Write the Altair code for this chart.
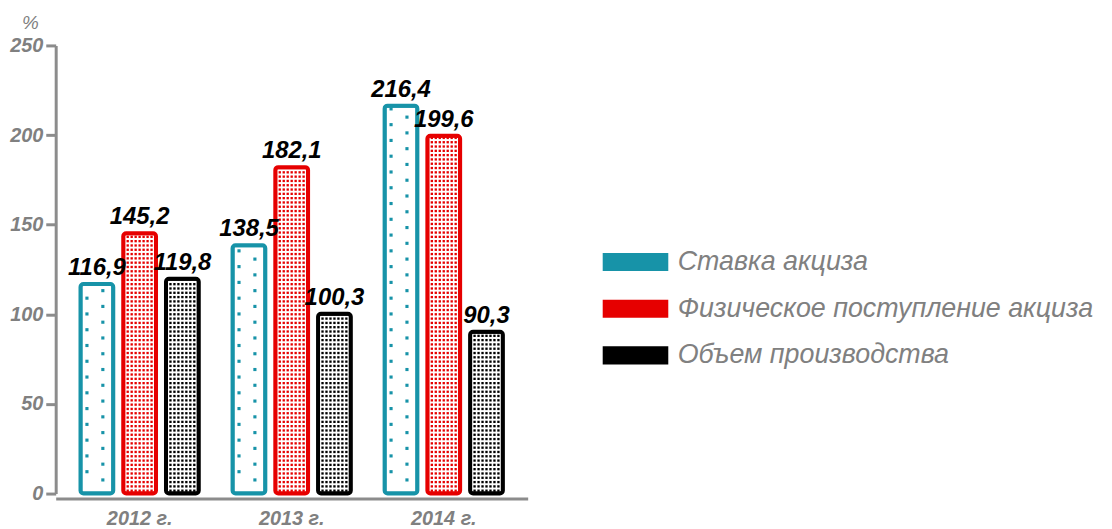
import altair as alt
import pandas as pd

years = ["2012 г.", "2013 г.", "2014 г."]
series = ["Ставка акциза", "Физическое поступление акциза", "Объем производства"]
stavka = [116.9, 138.5, 216.4]
fizich = [145.2, 182.1, 199.6]
obem = [119.8, 100.3, 90.3]
y_ticks = [0, 50, 100, 150, 200, 250]

stroke_colors = ["#1793a8", "#e60000", "#000000"]

rows = []
for s, vals in zip(series, [stavka, fizich, obem]):
    for yr, v in zip(years, vals):
        rows.append({"year": yr, "series": s, "value": v})
df = pd.DataFrame(rows)
legend_df = pd.DataFrame({"series": series})

FONT = "Liberation Sans"
GRAY = "#808080"
AXIS_GRAY = "#8c8c8c"

X_PAD_OUTER = 0.052
XO_PAD_IN, XO_PAD_OUT = 0.233, 0.395
WIDTH = 475
STEP = WIDTH / (3 + 2 * X_PAD_OUTER)
SUB = STEP / (3 - XO_PAD_IN + 2 * XO_PAD_OUT)  # pixel distance between bar centres

x_enc = alt.X("year:N", scale=alt.Scale(domain=years, paddingInner=0, paddingOuter=X_PAD_OUTER),
              axis=alt.Axis(title=None, labelAngle=0, ticks=False, domainColor=AXIS_GRAY,
                            domainWidth=3, offset=5, labelPadding=10, labelFont=FONT,
                            labelFontSize=20, labelFontWeight="bold", labelFontStyle="italic",
                            labelColor=GRAY))
xo_enc = alt.XOffset("series:N", scale=alt.Scale(domain=series, paddingInner=XO_PAD_IN,
                                                  paddingOuter=XO_PAD_OUT))
y_scale = alt.Scale(domain=[0, 250], nice=False)

base = alt.Chart(df)

bars = base.mark_bar(strokeWidth=4, cornerRadius=3, fill="white").encode(
    x=x_enc,
    xOffset=xo_enc,
    y=alt.Y("value:Q", scale=y_scale,
            axis=alt.Axis(values=y_ticks, grid=False, domainColor=AXIS_GRAY, domainWidth=3,
                          tickColor=AXIS_GRAY, tickWidth=3, tickSize=10, labelPadding=3,
                          labelFont=FONT, labelFontSize=20, labelFontWeight="bold",
                          labelFontStyle="italic", labelColor=GRAY,
                          title="%", titleAngle=0, titleX=-26, titleY=-23, titleAlign="center",
                          titleBaseline="middle", titleFont=FONT, titleFontSize=19,
                          titleFontWeight="normal", titleFontStyle="italic", titleColor=GRAY)),
    stroke=alt.Stroke("series:N", scale=alt.Scale(domain=series, range=stroke_colors), legend=None),
)

labels = base.transform_calculate(
    lbl="replace(format(datum.value, '.1f'), '.', ',')"
).mark_text(font=FONT, fontSize=24, fontWeight="bold", fontStyle="italic", color="black",
            baseline="bottom", dy=-4).encode(
    x=alt.X("year:N", scale=alt.Scale(domain=years)),
    xOffset=alt.XOffset("series:N", scale=alt.Scale(domain=series)),
    y=alt.Y("value:Q", scale=y_scale),
    text="lbl:N",
)


def dots(idx, start, step, offset, size):
    return base.transform_filter(alt.datum.series == series[idx]).transform_calculate(
        d=f"sequence({start}, datum.value - 1.2, {step})"
    ).transform_flatten(["d"]).mark_square(size=size, color=stroke_colors[idx], opacity=1,
                                           strokeWidth=0,
                                           xOffset=(idx - 1) * SUB + offset).encode(
        x=alt.X("year:N", scale=alt.Scale(domain=years)),
        y=alt.Y("d:Q", scale=y_scale),
    )


pattern_layers = [dots(0, 12.2, 8.8, -10, 10), dots(0, 7.6, 8.8, 6, 10)]
for idx in (1, 2):
    for off in (-12, -8, -4, 0, 4, 8, 12):
        pattern_layers.append(dots(idx, 1.6, 2.4, off, 5.5))

main = alt.layer(bars, *pattern_layers, labels)

leg_base = alt.Chart(legend_df)
leg_y = alt.Y("series:N", scale=alt.Scale(type="point", domain=series, range=[218, 312], padding=0),
              axis=None)
leg_sym = leg_base.mark_point(shape="M-1,-0.277L1,-0.277L1,0.277L-1,0.277Z", size=4356,
                              filled=True, opacity=1, strokeWidth=0).encode(
    x=alt.value(583.5),
    y=leg_y,
    fill=alt.Fill("series:N", scale=alt.Scale(domain=series, range=stroke_colors), legend=None),
)
leg_txt = leg_base.mark_text(align="left", baseline="middle", font=FONT, fontSize=27,
                             fontStyle="italic", color=GRAY).encode(
    x=alt.value(626),
    y=leg_y,
    text="series:N",
)
legend = alt.layer(leg_sym, leg_txt)

chart = alt.layer(main, legend).resolve_scale(y="independent", fill="independent").properties(
    width=WIDTH, height=451,
    autosize=alt.AutoSizeParams(type="none"),
    padding={"left": 48, "top": 36, "right": 580, "bottom": 34},
).configure_view(stroke=None)

chart.save("out.html", embed_options={"renderer": "svg", "actions": False})
